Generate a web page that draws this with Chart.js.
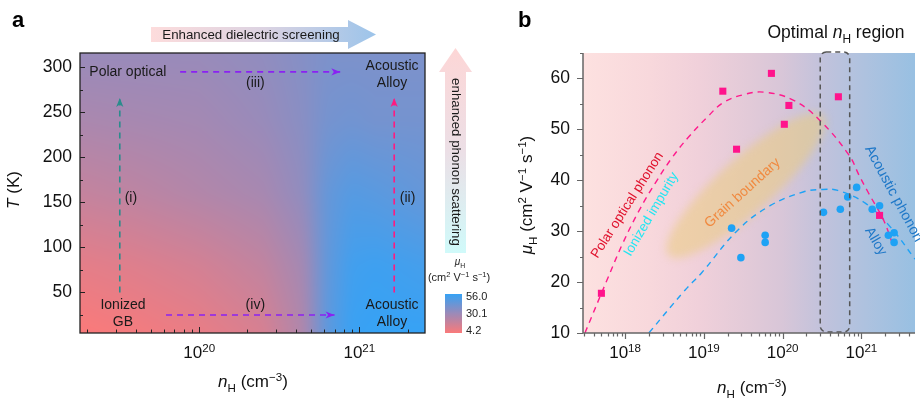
<!DOCTYPE html>
<html><head><meta charset="utf-8">
<script src="https://cdn.jsdelivr.net/npm/chart.js@4"></script>
<style>
html,body{margin:0;padding:0;background:#fff;overflow:hidden;width:920px;height:401px}
#wa{position:absolute;left:0;top:0;width:510px;height:401px}
#wb{position:absolute;left:480px;top:0;width:440px;height:401px}
</style></head><body>
<div id="wa"><canvas id="ca" width="510" height="401"></canvas></div>
<div id="wb"><canvas id="cb" width="440" height="401"></canvas></div>
<script>
const FONT = '"Liberation Sans", Arial, Helvetica, sans-serif';

// ---------------- Panel a data ----------------
const aXTicks = [1e20, 1e21];
const aYTicks = [50, 100, 150, 200, 250, 300];
const heatLogN = [19.25, 19.6, 20.0, 20.4, 20.65, 20.8, 20.95, 21.1, 21.41];
const heatT = [5, 80, 160, 240, 316];
const heatMu = [
  [4, 6, 9, 14, 25, 46, 55, 56, 56],
  [10, 12, 15, 20, 28, 45, 53, 54, 52],
  [19, 21, 24, 27, 33, 44, 48, 47, 44],
  [26, 27, 28, 31, 35, 40, 41, 40, 40],
  [31, 31, 31, 33, 36, 38, 38, 38, 38]
];
const cbarTicks = [56.0, 30.1, 4.2];
const pathI   = [{x: 3.19e19, y: 50}, {x: 3.19e19, y: 266}];
const pathII  = [{x: 1.65e21, y: 50}, {x: 1.65e21, y: 266}];
const pathIII = [{x: 7.6e19, y: 295}, {x: 7.6e20, y: 295}];
const pathIV  = [{x: 6.2e19, y: 25}, {x: 7.0e20, y: 25}];

// ---------------- Panel b data ----------------
const bXTicks = [1e18, 1e19, 1e20, 1e21];
const bYTicks = [10, 20, 30, 40, 50, 60];
const polarN  = [5.0e17, 1.74e19, 2.6e19, 7.2e19, 1.05e20, 1.2e20, 5.1e20, 1.7e21];
const polarMu = [17.8, 57.5, 46.1, 61.0, 51.0, 54.7, 56.4, 33.1];
const acousN  = [2.25e19, 2.95e19, 6.0e19, 6.0e19, 3.3e20, 5.4e20, 6.7e20, 8.7e20, 1.37e21, 1.7e21, 2.2e21, 2.6e21, 2.6e21];
const acousMu = [30.6, 24.8, 29.2, 27.8, 33.7, 34.3, 36.7, 38.6, 34.3, 35.0, 29.2, 29.7, 27.8];
const polarFitN  = [3.09e17, 5.89e17, 9.33e17, 1.51e18, 2.45e18, 3.89e18, 6.31e18, 1.12e19, 1.74e19, 3.16e19, 5.89e19, 1.38e20, 2.95e20, 6.92e20, 9.33e20, 1.23e21, 1.91e21, 2.51e21];
const polarFitMu = [10, 20.4, 27.6, 34.1, 39.6, 44.3, 48.4, 52.5, 55.2, 56.8, 57.3, 55.7, 51.8, 45.0, 41.0, 37.5, 32.2, 27.3];
const acousFitN  = [2.0e18, 5.75e18, 9.33e18, 2.69e19, 6.92e19, 1.82e20, 3.24e20, 5.01e20, 1.12e21, 2.34e21, 4.79e21];
const acousFitMu = [10, 18.4, 21.8, 30.2, 35.0, 37.7, 38.2, 38.0, 35.5, 30.8, 24.5];
const optimalRange = [3.0e20, 7.1e20];

// ---------------- helpers ----------------
const cmapStops = [[4.2, [250, 122, 122]], [30.1, [156, 138, 184]], [56.0, [54, 162, 245]]];
function muColor(mu) {
  if (mu <= cmapStops[0][0]) return cmapStops[0][1];
  for (let i = 0; i < cmapStops.length - 1; i++) {
    const [v0, c0] = cmapStops[i], [v1, c1] = cmapStops[i + 1];
    if (mu <= v1) { const t = (mu - v0) / (v1 - v0); return c0.map((c, k) => c + (c1[k] - c) * t); }
  }
  return cmapStops[cmapStops.length - 1][1];
}
function frac(arr, v) {
  const n = arr.length;
  if (v <= arr[0]) return [0, 0];
  if (v >= arr[n - 1]) return [n - 2, 1];
  for (let i = 0; i < n - 1; i++) if (v <= arr[i + 1]) return [i, (v - arr[i]) / (arr[i + 1] - arr[i])];
  return [n - 2, 1];
}
function heatAt(ln, T) {
  const [i, fx] = frac(heatLogN, ln), [j, fy] = frac(heatT, T);
  const a = heatMu[j][i], b = heatMu[j][i + 1], c = heatMu[j + 1][i], d = heatMu[j + 1][i + 1];
  return (a * (1 - fx) + b * fx) * (1 - fy) + (c * (1 - fx) + d * fx) * fy;
}
function fontFor(s, size) {
  const sz = (s.sub || s.sup) ? size * 0.68 : size;
  return (s.it ? 'italic ' : '') + (s.bold ? 'bold ' : '') + sz.toFixed(1) + 'px ' + FONT;
}
function richText(ctx, segs, x, y, size, align, color) {
  ctx.save();
  ctx.textBaseline = 'alphabetic'; ctx.textAlign = 'left'; ctx.fillStyle = color;
  let w = 0;
  segs.forEach(s => { ctx.font = fontFor(s, size); w += ctx.measureText(s.t).width; });
  let cx = align === 'center' ? x - w / 2 : (align === 'right' ? x - w : x);
  segs.forEach(s => {
    ctx.font = fontFor(s, size);
    const dy = s.sub ? size * 0.28 : (s.sup ? -size * 0.38 : 0);
    ctx.fillText(s.t, cx, y + dy);
    cx += ctx.measureText(s.t).width;
  });
  ctx.restore();
}
function rotText(ctx, txt, x, y, ang, font, color, align) {
  ctx.save(); ctx.translate(x, y); ctx.rotate(ang * Math.PI / 180);
  ctx.font = font; ctx.fillStyle = color; ctx.textAlign = align || 'center'; ctx.textBaseline = 'middle';
  ctx.fillText(txt, 0, 0); ctx.restore();
}
function logMinorTicks(min, max) {
  const out = [];
  for (let k = Math.floor(Math.log10(min)); k <= Math.ceil(Math.log10(max)); k++)
    for (let m = 1; m <= 9; m++) { const v = m * Math.pow(10, k); if (v >= min && v <= max) out.push({v, major: m === 1}); }
  return out;
}
function arrowHead(ctx, x, y, ang, color) {
  ctx.save(); ctx.translate(x, y); ctx.rotate(ang); ctx.fillStyle = color;
  ctx.beginPath(); ctx.moveTo(0, 0); ctx.lineTo(-9, -3.6); ctx.lineTo(-6.5, 0); ctx.lineTo(-9, 3.6); ctx.closePath(); ctx.fill();
  ctx.restore();
}
const expSeg = v => [{t: '10'}, {t: String(Math.round(Math.log10(v))), sup: true}];

// ---------------- Panel a ----------------
const aLabels = [
  {lines: ['Polar optical'], x: 3.58e19, y: 295},
  {lines: ['Acoustic', 'Alloy'], x: 1.6e21, y: 292},
  {lines: ['(iii)'], x: 2.24e20, y: 282},
  {lines: ['(i)'], x: 3.74e19, y: 155},
  {lines: ['(ii)'], x: 2.0e21, y: 155},
  {lines: ['Ionized', 'GB'], x: 3.34e19, y: 27},
  {lines: ['(iv)'], x: 2.24e20, y: 36},
  {lines: ['Acoustic', 'Alloy'], x: 1.6e21, y: 27}
];
const pluginA = {
  id: 'pa',
  beforeDatasetsDraw(chart) {
    const {ctx, chartArea: ca, scales: {x, y}} = chart;
    const M = 16, w = Math.round(ca.right - ca.left) + 2 * M, h = Math.round(ca.bottom - ca.top) + 2 * M;
    const off = document.createElement('canvas'); off.width = w; off.height = h;
    const o = off.getContext('2d'); const img = o.createImageData(w, h);
    for (let j = 0; j < h; j++) {
      const T = y.getValueForPixel(ca.top - M + j + 0.5);
      for (let i = 0; i < w; i++) {
        const ln = Math.log10(x.getValueForPixel(ca.left - M + i + 0.5));
        const c = muColor(heatAt(ln, T)); const p = (j * w + i) * 4;
        img.data[p] = c[0]; img.data[p + 1] = c[1]; img.data[p + 2] = c[2]; img.data[p + 3] = 255;
      }
    }
    o.putImageData(img, 0, 0);
    ctx.save(); ctx.beginPath(); ctx.rect(ca.left, ca.top, ca.right - ca.left, ca.bottom - ca.top); ctx.clip();
    ctx.filter = 'blur(5px)'; ctx.drawImage(off, ca.left - M, ca.top - M); ctx.restore();
  },
  afterDatasetsDraw(chart) {
    const {ctx, scales: {x, y}} = chart;
    chart.data.datasets.forEach((ds, di) => {
      const pts = chart.getDatasetMeta(di).data; const a = pts[pts.length - 2], b = pts[pts.length - 1];
      arrowHead(ctx, b.x, b.y, Math.atan2(b.y - a.y, b.x - a.x), ds.borderColor);
    });
    ctx.save(); ctx.fillStyle = '#1a1a1a'; ctx.font = '14px ' + FONT; ctx.textAlign = 'center'; ctx.textBaseline = 'middle';
    aLabels.forEach(L => {
      const px = x.getPixelForValue(L.x), py = y.getPixelForValue(L.y), lh = 17;
      L.lines.forEach((t, k) => ctx.fillText(t, px, py + (k - (L.lines.length - 1) / 2) * lh));
    });
    ctx.restore();
  },
  afterDraw(chart) {
    const {ctx, chartArea: ca, scales: {x, y}} = chart;
    ctx.save();
    ctx.strokeStyle = '#222'; ctx.lineWidth = 1.3;
    ctx.strokeRect(ca.left, ca.top, ca.right - ca.left, ca.bottom - ca.top);
    ctx.beginPath();
    logMinorTicks(x.min, x.max).forEach(t => { const px = Math.round(x.getPixelForValue(t.v)) + 0.5; ctx.moveTo(px, ca.bottom); ctx.lineTo(px, ca.bottom - (t.major ? 6 : 3.5)); });
    for (let k = 0; k < aYTicks.length; k++) {
      const py = Math.round(y.getPixelForValue(aYTicks[k])) + 0.5; ctx.moveTo(ca.left, py); ctx.lineTo(ca.left + 5, py);
      const mv = aYTicks[k] - 25; if (mv > y.min) { const pm = Math.round(y.getPixelForValue(mv)) + 0.5; ctx.moveTo(ca.left, pm); ctx.lineTo(ca.left + 3, pm); }
    }
    ctx.lineWidth = 1; ctx.stroke();
    aXTicks.forEach(v => richText(ctx, expSeg(v), x.getPixelForValue(v), 358, 17, 'center', '#111'));
    richText(ctx, [{t: 'n', it: true}, {t: 'H', sub: true}, {t: ' (cm'}, {t: '\u22123', sup: true}, {t: ')'}], 253, 387, 17, 'center', '#111');
    ctx.save(); ctx.translate(19, 190); ctx.rotate(-Math.PI / 2);
    richText(ctx, [{t: 'T', it: true}, {t: ' (K)'}], 0, 0, 17, 'center', '#111'); ctx.restore();
    ctx.font = 'bold 22px ' + FONT; ctx.fillStyle = '#000'; ctx.textAlign = 'left'; ctx.textBaseline = 'alphabetic'; ctx.fillText('a', 12, 27);
    // top arrow
    let g = ctx.createLinearGradient(151, 0, 376, 0);
    g.addColorStop(0, '#fddcdc'); g.addColorStop(0.5, '#dcd3e2'); g.addColorStop(1, '#9cc4ea');
    ctx.fillStyle = g; ctx.beginPath();
    ctx.moveTo(151, 27); ctx.lineTo(348, 27); ctx.lineTo(348, 20); ctx.lineTo(376, 34.5); ctx.lineTo(348, 49); ctx.lineTo(348, 42); ctx.lineTo(151, 42); ctx.closePath(); ctx.fill();
    ctx.font = '13.3px ' + FONT; ctx.fillStyle = '#1a1a1a'; ctx.textAlign = 'center'; ctx.textBaseline = 'middle';
    ctx.fillText('Enhanced dielectric screening', 251, 35);
    // right vertical arrow
    g = ctx.createLinearGradient(0, 48, 0, 253);
    g.addColorStop(0, '#fdd6d6'); g.addColorStop(0.5, '#ecdfe6'); g.addColorStop(1, '#d0fafa');
    ctx.fillStyle = g; ctx.beginPath();
    ctx.moveTo(445, 253); ctx.lineTo(445, 72); ctx.lineTo(439, 72); ctx.lineTo(455.5, 48); ctx.lineTo(472, 72); ctx.lineTo(466, 72); ctx.lineTo(466, 253); ctx.closePath(); ctx.fill();
    rotText(ctx, 'enhanced phonon scattering', 455.5, 162, 90, '13.3px ' + FONT, '#1a1a1a');
    // colorbar
    const cbT = 294, cbB = 333, cbL = 445, cbR = 462;
    g = ctx.createLinearGradient(0, cbB, 0, cbT);
    const lo = cbarTicks[cbarTicks.length - 1], hi = cbarTicks[0];
    for (let s = 0; s <= 10; s++) { const v = lo + (hi - lo) * s / 10; const c = muColor(v); g.addColorStop(s / 10, `rgb(${c[0] | 0},${c[1] | 0},${c[2] | 0})`); }
    ctx.fillStyle = g; ctx.fillRect(cbL, cbT, cbR - cbL, cbB - cbT);
    ctx.font = '11px ' + FONT; ctx.fillStyle = '#222'; ctx.textAlign = 'left'; ctx.textBaseline = 'middle';
    cbarTicks.forEach(v => { let py = cbB - (v - lo) / (hi - lo) * (cbB - cbT); py = Math.min(Math.max(py, cbT + 3), cbB - 2); ctx.fillText(v.toFixed(1), 466, py); });
    richText(ctx, [{t: '\u03bc', it: true}, {t: 'H', sub: true}], 460, 265, 10, 'center', '#222');
    richText(ctx, [{t: '(cm'}, {t: '2', sup: true}, {t: ' V'}, {t: '\u22121', sup: true}, {t: ' s'}, {t: '\u22121', sup: true}, {t: ')'}], 459, 281, 11, 'center', '#222');
    ctx.restore();
  }
};
const arrowDs = (data, color) => ({data, borderColor: color, backgroundColor: color, borderWidth: 1.6, borderDash: [6, 5], pointRadius: 0, fill: false, tension: 0});
new Chart(document.getElementById('ca'), {
  type: 'line',
  data: {datasets: [arrowDs(pathI, '#2a8c8c'), arrowDs(pathII, '#ff1a80'), arrowDs(pathIII, '#8a22f2'), arrowDs(pathIV, '#8a22f2')]},
  options: {
    responsive: false, animation: false, devicePixelRatio: 1, events: [],
    layout: {padding: {left: 0, right: 85, top: 53, bottom: 0}},
    plugins: {legend: {display: false}, tooltip: {enabled: false}},
    scales: {
      x: {type: 'logarithmic', min: 1.8e19, max: 2.57e21, ticks: {display: false}, grid: {display: false, drawTicks: false}, border: {display: false}, afterFit(s) { s.height = 68; }},
      y: {type: 'linear', min: 5, max: 316, afterBuildTicks(s) { s.ticks = aYTicks.map(v => ({value: v})); },
        ticks: {font: {family: FONT, size: 17.5}, color: '#111', padding: 8}, grid: {display: false, drawTicks: false}, border: {display: false}, afterFit(s) { s.width = 80; }}
    }
  },
  plugins: [pluginA]
});

// ---------------- Panel b ----------------
const bLabels = [
  {t: 'Polar optical phonon', x: 1.07e18, y: 35.1, ang: -57.5, color: '#e0102c', size: 13.5, align: 'center'},
  {t: 'Ionized impurity', x: 2.15e18, y: 33.3, ang: -59.5, color: '#22e6f2', size: 13.5, align: 'center'},
  {t: 'Grain boundary', x: 3.1e19, y: 37.5, ang: -42, color: '#f08a40', size: 14, align: 'center'},
  {t: 'Acoustic phonon', x: 1.22e21, y: 46.6, ang: 61.6, color: '#1f78c8', size: 14.5, align: 'left'},
  {t: 'Alloy', x: 1.52e21, y: 28.0, ang: 60, color: '#1f78c8', size: 14, align: 'center'}
];
const grain = {from: {x: 3.55e18, y: 25.3}, to: {x: 3.3e20, y: 52.7}, halfWidth: 27};
const pluginB = {
  id: 'pb',
  beforeDatasetsDraw(chart) {
    const {ctx, chartArea: ca, scales: {x, y}} = chart;
    ctx.save();
    const g = ctx.createLinearGradient(ca.left, 0, ca.right, 0);
    [[0, '#fde1e0'], [0.2, '#f8d8dc'], [0.35, '#f0d0da'], [0.5, '#e2cad8'], [0.6, '#d8c6d8'], [0.73, '#c0c2dc'], [0.85, '#aec2df'], [1, '#98c0e2']].forEach(s => g.addColorStop(s[0], s[1]));
    ctx.fillStyle = g; ctx.fillRect(ca.left, ca.top, ca.right - ca.left, ca.bottom - ca.top);
    ctx.beginPath(); ctx.rect(ca.left, ca.top, ca.right - ca.left, ca.bottom - ca.top); ctx.clip();
    const x1 = x.getPixelForValue(grain.from.x), y1 = y.getPixelForValue(grain.from.y);
    const x2 = x.getPixelForValue(grain.to.x), y2 = y.getPixelForValue(grain.to.y);
    ctx.filter = 'blur(4px)';
    ctx.fillStyle = 'rgba(234,204,128,0.55)';
    ctx.beginPath();
    ctx.ellipse((x1 + x2) / 2, (y1 + y2) / 2, Math.hypot(x2 - x1, y2 - y1) / 2, grain.halfWidth, Math.atan2(y2 - y1, x2 - x1), 0, Math.PI * 2);
    ctx.fill();
    ctx.restore();
  },
  afterDatasetsDraw(chart) {
    const {ctx, chartArea: ca, scales: {x, y}} = chart;
    ctx.save();
    const rx1 = x.getPixelForValue(optimalRange[0]), rx2 = x.getPixelForValue(optimalRange[1]);
    ctx.strokeStyle = '#555'; ctx.lineWidth = 1.5; ctx.setLineDash([5, 4]);
    ctx.beginPath(); ctx.roundRect(rx1, ca.top - 1, rx2 - rx1, ca.bottom - ca.top, 6); ctx.stroke();
    ctx.setLineDash([]);
    bLabels.forEach(L => rotText(ctx, L.t, x.getPixelForValue(L.x), y.getPixelForValue(L.y), L.ang, L.size + 'px ' + FONT, L.color, L.align));
    ctx.restore();
  },
  afterDraw(chart) {
    const {ctx, chartArea: ca, scales: {x, y}} = chart;
    ctx.save();
    ctx.strokeStyle = '#666'; ctx.lineWidth = 1.5;
    ctx.beginPath(); ctx.moveTo(ca.left, ca.top); ctx.lineTo(ca.left, ca.bottom); ctx.lineTo(ca.right, ca.bottom); ctx.stroke();
    ctx.beginPath(); ctx.lineWidth = 1.2;
    logMinorTicks(x.min, x.max).forEach(t => { const px = Math.round(x.getPixelForValue(t.v)) + 0.5; ctx.moveTo(px, ca.bottom); ctx.lineTo(px, ca.bottom + (t.major ? 6 : 3.5)); });
    for (let v = y.min; v <= y.max; v += 5) { const py = Math.round(y.getPixelForValue(v)) + 0.5; ctx.moveTo(ca.left, py); ctx.lineTo(ca.left - (v % 10 === 0 ? 6 : 3), py); }
    ctx.stroke();
    bXTicks.forEach(v => richText(ctx, expSeg(v), x.getPixelForValue(v), 358, 17, 'center', '#111'));
    richText(ctx, [{t: 'n', it: true}, {t: 'H', sub: true}, {t: ' (cm'}, {t: '\u22123', sup: true}, {t: ')'}], 272, 393, 17, 'center', '#111');
    ctx.save(); ctx.translate(52, 195); ctx.rotate(-Math.PI / 2);
    richText(ctx, [{t: '\u03bc', it: true}, {t: 'H', sub: true}, {t: ' (cm'}, {t: '2', sup: true}, {t: ' V'}, {t: '\u22121', sup: true}, {t: ' s'}, {t: '\u22121', sup: true}, {t: ')'}], 0, 0, 17, 'center', '#111');
    ctx.restore();
    richText(ctx, [{t: 'Optimal '}, {t: 'n', it: true}, {t: 'H', sub: true}, {t: ' region'}], 356, 38, 17.5, 'center', '#111');
    ctx.font = 'bold 22px ' + FONT; ctx.fillStyle = '#000'; ctx.textAlign = 'left'; ctx.textBaseline = 'alphabetic'; ctx.fillText('b', 38, 27);
    ctx.restore();
  }
};
const pts = (xs, ys) => xs.map((v, i) => ({x: v, y: ys[i]}));
new Chart(document.getElementById('cb'), {
  type: 'scatter',
  data: {datasets: [
    {data: pts(polarN, polarMu), pointStyle: 'rect', pointRadius: 5, backgroundColor: '#ff148c', borderWidth: 0, order: 0},
    {data: pts(acousN, acousMu), pointStyle: 'circle', pointRadius: 3.8, backgroundColor: '#1ea2f5', borderWidth: 0, order: 0},
    {data: pts(polarFitN, polarFitMu), showLine: true, borderColor: '#ff1a8c', borderWidth: 1.4, borderDash: [6, 5], pointRadius: 0, tension: 0.4, order: 1},
    {data: pts(acousFitN, acousFitMu), showLine: true, borderColor: '#1ea2f5', borderWidth: 1.4, borderDash: [6, 5], pointRadius: 0, tension: 0.4, order: 1}
  ]},
  options: {
    responsive: false, animation: false, devicePixelRatio: 1, events: [],
    layout: {padding: {left: 0, right: 0, top: 53, bottom: 0}},
    plugins: {legend: {display: false}, tooltip: {enabled: false}},
    scales: {
      x: {type: 'logarithmic', min: 2.92e17, max: 4.79e21, ticks: {display: false}, grid: {display: false, drawTicks: false}, border: {display: false}, afterFit(s) { s.height = 68; }},
      y: {type: 'linear', min: 10, max: 65, afterBuildTicks(s) { s.ticks = bYTicks.map(v => ({value: v})); },
        ticks: {font: {family: FONT, size: 17.5}, color: '#111', padding: 13}, grid: {display: false, drawTicks: false}, border: {display: false}, afterFit(s) { s.width = 103; }}
    }
  },
  plugins: [pluginB]
});
</script>
</body></html>
